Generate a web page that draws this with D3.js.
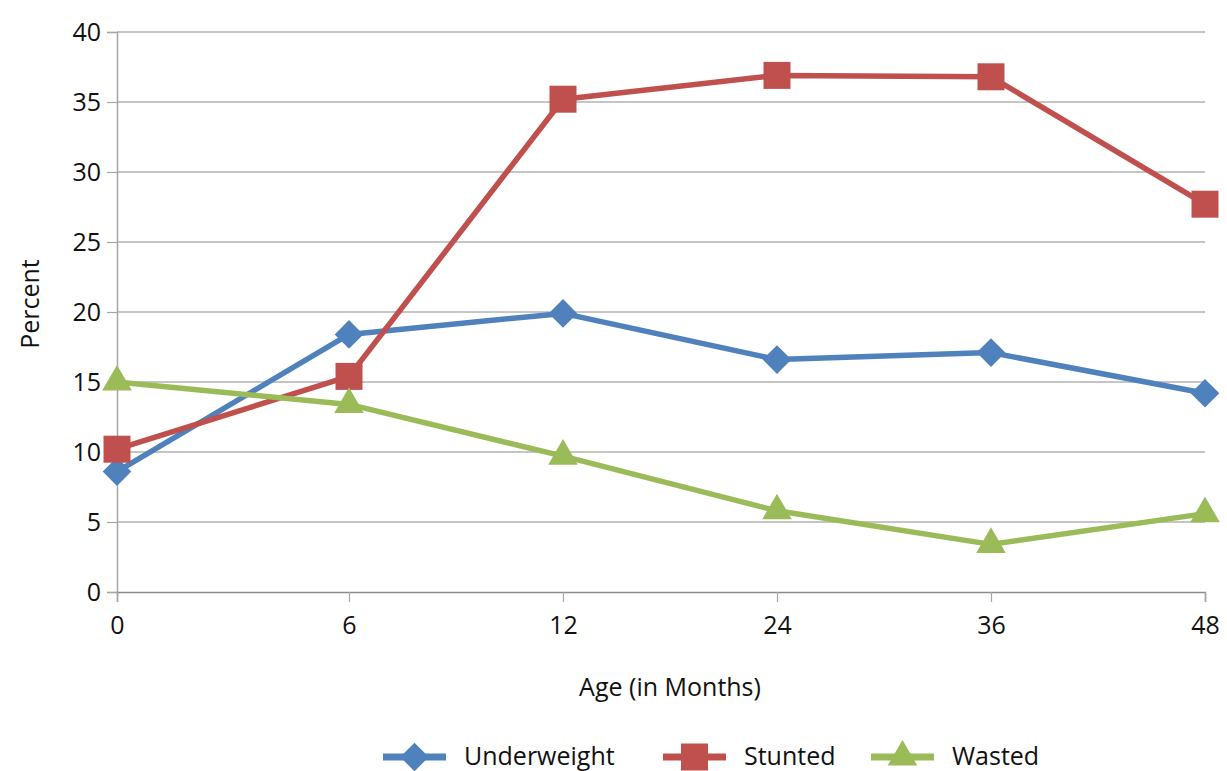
<!DOCTYPE html>
<html>
<head>
<meta charset="utf-8">
<script src="https://cdn.jsdelivr.net/npm/d3@7"></script>
<style>
  html, body { margin: 0; padding: 0; background: #fff; }
  svg { display: block; }
  text { font-family: "Open Sans", "Noto Sans", sans-serif; fill: #111; }
</style>
</head>
<body>
<svg id="chart" width="1227" height="771"></svg>
<script>
const categories = ["0", "6", "12", "24", "36", "48"];
const underweight = [8.6, 18.4, 19.9, 16.6, 17.1, 14.2];
const stunted = [10.2, 15.4, 35.2, 36.9, 36.8, 27.7];
const wasted = [15.0, 13.4, 9.7, 5.8, 3.4, 5.6];
const yTicks = [0, 5, 10, 15, 20, 25, 30, 35, 40];
const seriesNames = ["Underweight", "Stunted", "Wasted"];
const seriesColors = ["#4F81BD", "#C0504D", "#9BBB59"];
const xTitle = "Age (in Months)";
const yTitle = "Percent";

const series = [
  { name: seriesNames[0], values: underweight, color: seriesColors[0], shape: "diamond" },
  { name: seriesNames[1], values: stunted, color: seriesColors[1], shape: "square" },
  { name: seriesNames[2], values: wasted, color: seriesColors[2], shape: "triangle" }
];

const svg = d3.select("#chart");
const plotLeft = 117, plotRight = 1205, plotTop = 32, plotBottom = 592;

// category positions (first interval is wider in the original)
const x = d3.scaleLinear().domain([0, 1, categories.length - 1]).range([plotLeft, 349, plotRight]);
const y = d3.scaleLinear().domain([0, 40]).range([plotBottom, plotTop]);

// gridlines
svg.append("g")
  .selectAll("line").data(yTicks.filter(d => d > 0)).join("line")
  .attr("x1", plotLeft).attr("x2", plotRight)
  .attr("y1", d => y(d)).attr("y2", d => y(d))
  .attr("stroke", "#8c8c8c").attr("stroke-width", 1.2);

// y axis
const yAxis = svg.append("g").attr("transform", `translate(${plotLeft},0)`)
  .call(d3.axisLeft(y).tickValues(yTicks).tickSize(10).tickPadding(6));
yAxis.select(".domain").attr("stroke", "#a6a6a6").attr("stroke-width", 1.5);
yAxis.selectAll(".tick line").attr("stroke", "#a6a6a6").attr("stroke-width", 1.2);
yAxis.selectAll(".tick text").attr("font-size", 25).attr("fill", "#111")
  .style("font-family", "'Open Sans', sans-serif");

// x axis
const xAxis = svg.append("g").attr("transform", `translate(0,${plotBottom})`)
  .call(d3.axisBottom(x).tickValues(d3.range(categories.length))
    .tickFormat(i => categories[i]).tickSize(10).tickPadding(14));
xAxis.select(".domain").attr("stroke", "#8c8c8c").attr("stroke-width", 1.5);
xAxis.selectAll(".tick line").attr("stroke", "#a6a6a6").attr("stroke-width", 1.2);
xAxis.selectAll(".tick text").attr("font-size", 25).attr("fill", "#111")
  .style("font-family", "'Open Sans', sans-serif");

// titles
svg.append("text").attr("x", 670).attr("y", 696).attr("text-anchor", "middle")
  .attr("font-size", 25).text(xTitle);
svg.append("text").attr("transform", `translate(39,304) rotate(-90)`)
  .attr("text-anchor", "middle").attr("font-size", 25).text(yTitle);

function symbolPath(shape) {
  if (shape === "diamond") return d3.symbol().type(d3.symbolSquare).size(410)();
  if (shape === "square") return d3.symbol().type(d3.symbolSquare).size(729)();
  return d3.symbol().type(d3.symbolTriangle).size(380)();
}
function symbolRotate(shape) { return shape === "diamond" ? " rotate(45)" : ""; }

const line = d3.line().x((d, i) => x(i)).y(d => y(d));

const plot = svg.append("g");
series.forEach(s => {
  plot.append("path").attr("d", line(s.values))
    .attr("fill", "none").attr("stroke", s.color).attr("stroke-width", 5.5)
    .attr("stroke-linejoin", "round");
});
series.forEach(s => {
  plot.append("g").selectAll("path").data(s.values).join("path")
    .attr("d", symbolPath(s.shape))
    .attr("transform", (d, i) => `translate(${x(i)},${y(d)})${symbolRotate(s.shape)}`)
    .attr("fill", s.color);
});

// legend
const legendX = [383, 663, 871];
const legendY = 757;
const legend = svg.append("g");
series.forEach((s, k) => {
  const g = legend.append("g").attr("transform", `translate(${legendX[k]},${legendY})`);
  g.append("line").attr("x1", 0).attr("x2", 63).attr("y1", 0).attr("y2", 0)
    .attr("stroke", s.color).attr("stroke-width", 7);
  g.append("path").attr("d", symbolPath(s.shape))
    .attr("transform", `translate(31.5,0)${symbolRotate(s.shape)}`)
    .attr("fill", s.color);
  g.append("text").attr("x", 81).attr("y", 8).attr("font-size", 25).text(s.name);
});
</script>
</body>
</html>
